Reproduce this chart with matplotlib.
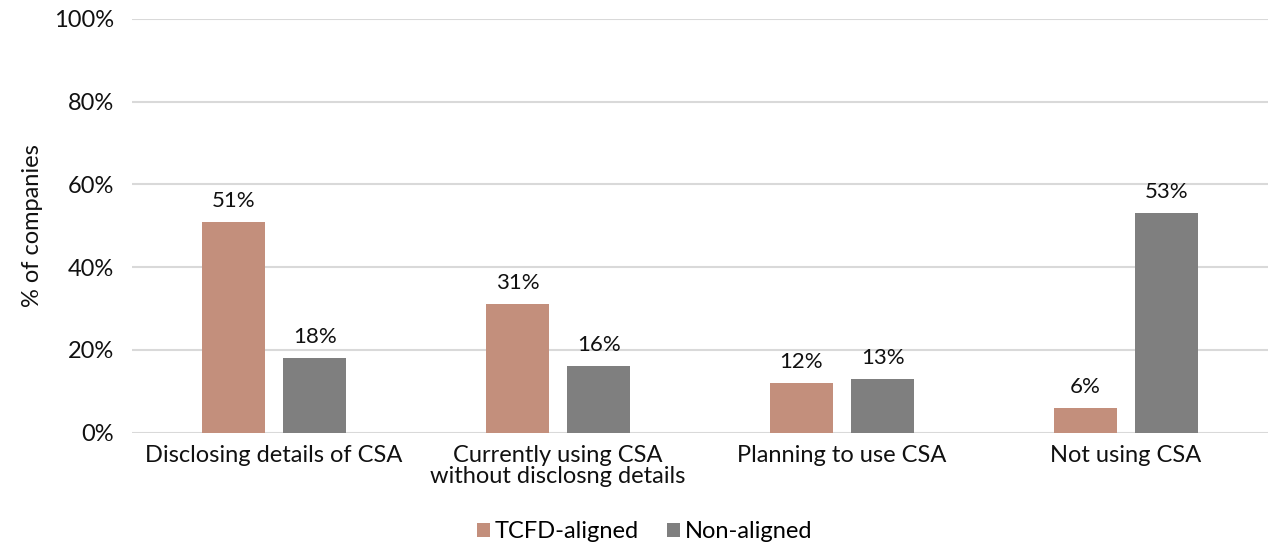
import numpy as np
import matplotlib.pyplot as plt

plt.rcParams['font.family'] = ['Lato', 'DejaVu Sans']

categories = ["Disclosing details of CSA", "Currently using CSA\nwithout disclosng details",
              "Planning to use CSA", "Not using CSA"]
tcfd_aligned = [51, 31, 12, 6]
non_aligned = [18, 16, 13, 53]
y_ticks = [0, 20, 40, 60, 80, 100]

tcfd_color = "#C38F7C"
non_color = "#7F7F7F"
grid_color = "#D9D9D9"
text_color = "#111111"
fs = 17

fig = plt.figure(figsize=(12.74, 5.47), dpi=100)
ax = fig.add_axes([0.1036, 0.2093, 0.8917, 0.756])

x = np.arange(len(categories))
width = 0.222
offset = 0.143

b1 = ax.bar(x - offset, tcfd_aligned, width, color=tcfd_color, label="TCFD-aligned", zorder=3)
b2 = ax.bar(x + offset, non_aligned, width, color=non_color, label="Non-aligned", zorder=3)

# value labels above each bar
for bars, vals in ((b1, tcfd_aligned), (b2, non_aligned)):
    for rect, v in zip(bars, vals):
        ax.annotate(f"{v}%", (rect.get_x() + rect.get_width() / 2, v),
                    xytext=(0, 8), textcoords="offset points",
                    ha="center", va="bottom", fontsize=16, color=text_color)

ax.set_xlim(-0.5, len(categories) - 0.5)
ax.set_ylim(0, 100)
ax.set_yticks(y_ticks)
ax.set_yticklabels([f"{t}%" for t in y_ticks])
ax.set_xticks(x)
ax.set_xticklabels(categories, linespacing=1.0)
ax.tick_params(axis="y", length=0, pad=13, labelsize=fs, labelcolor=text_color)
ax.tick_params(axis="x", length=0, pad=9, labelsize=fs, labelcolor=text_color)

ax.yaxis.grid(True, color=grid_color, linewidth=1.5, zorder=0)
for s in ax.spines.values():
    s.set_visible(False)

ax.set_ylabel("% of companies", fontsize=fs, color=text_color, labelpad=8)

handles, labels = ax.get_legend_handles_labels()
fig.legend(handles, labels, loc="center", bbox_to_anchor=(0.506, 0.028), ncol=2,
           frameon=False, fontsize=fs, handlelength=0.55, handleheight=0.55,
           handletextpad=0.2, columnspacing=1.2, borderpad=0)

fig.savefig("out.png", dpi=100)
